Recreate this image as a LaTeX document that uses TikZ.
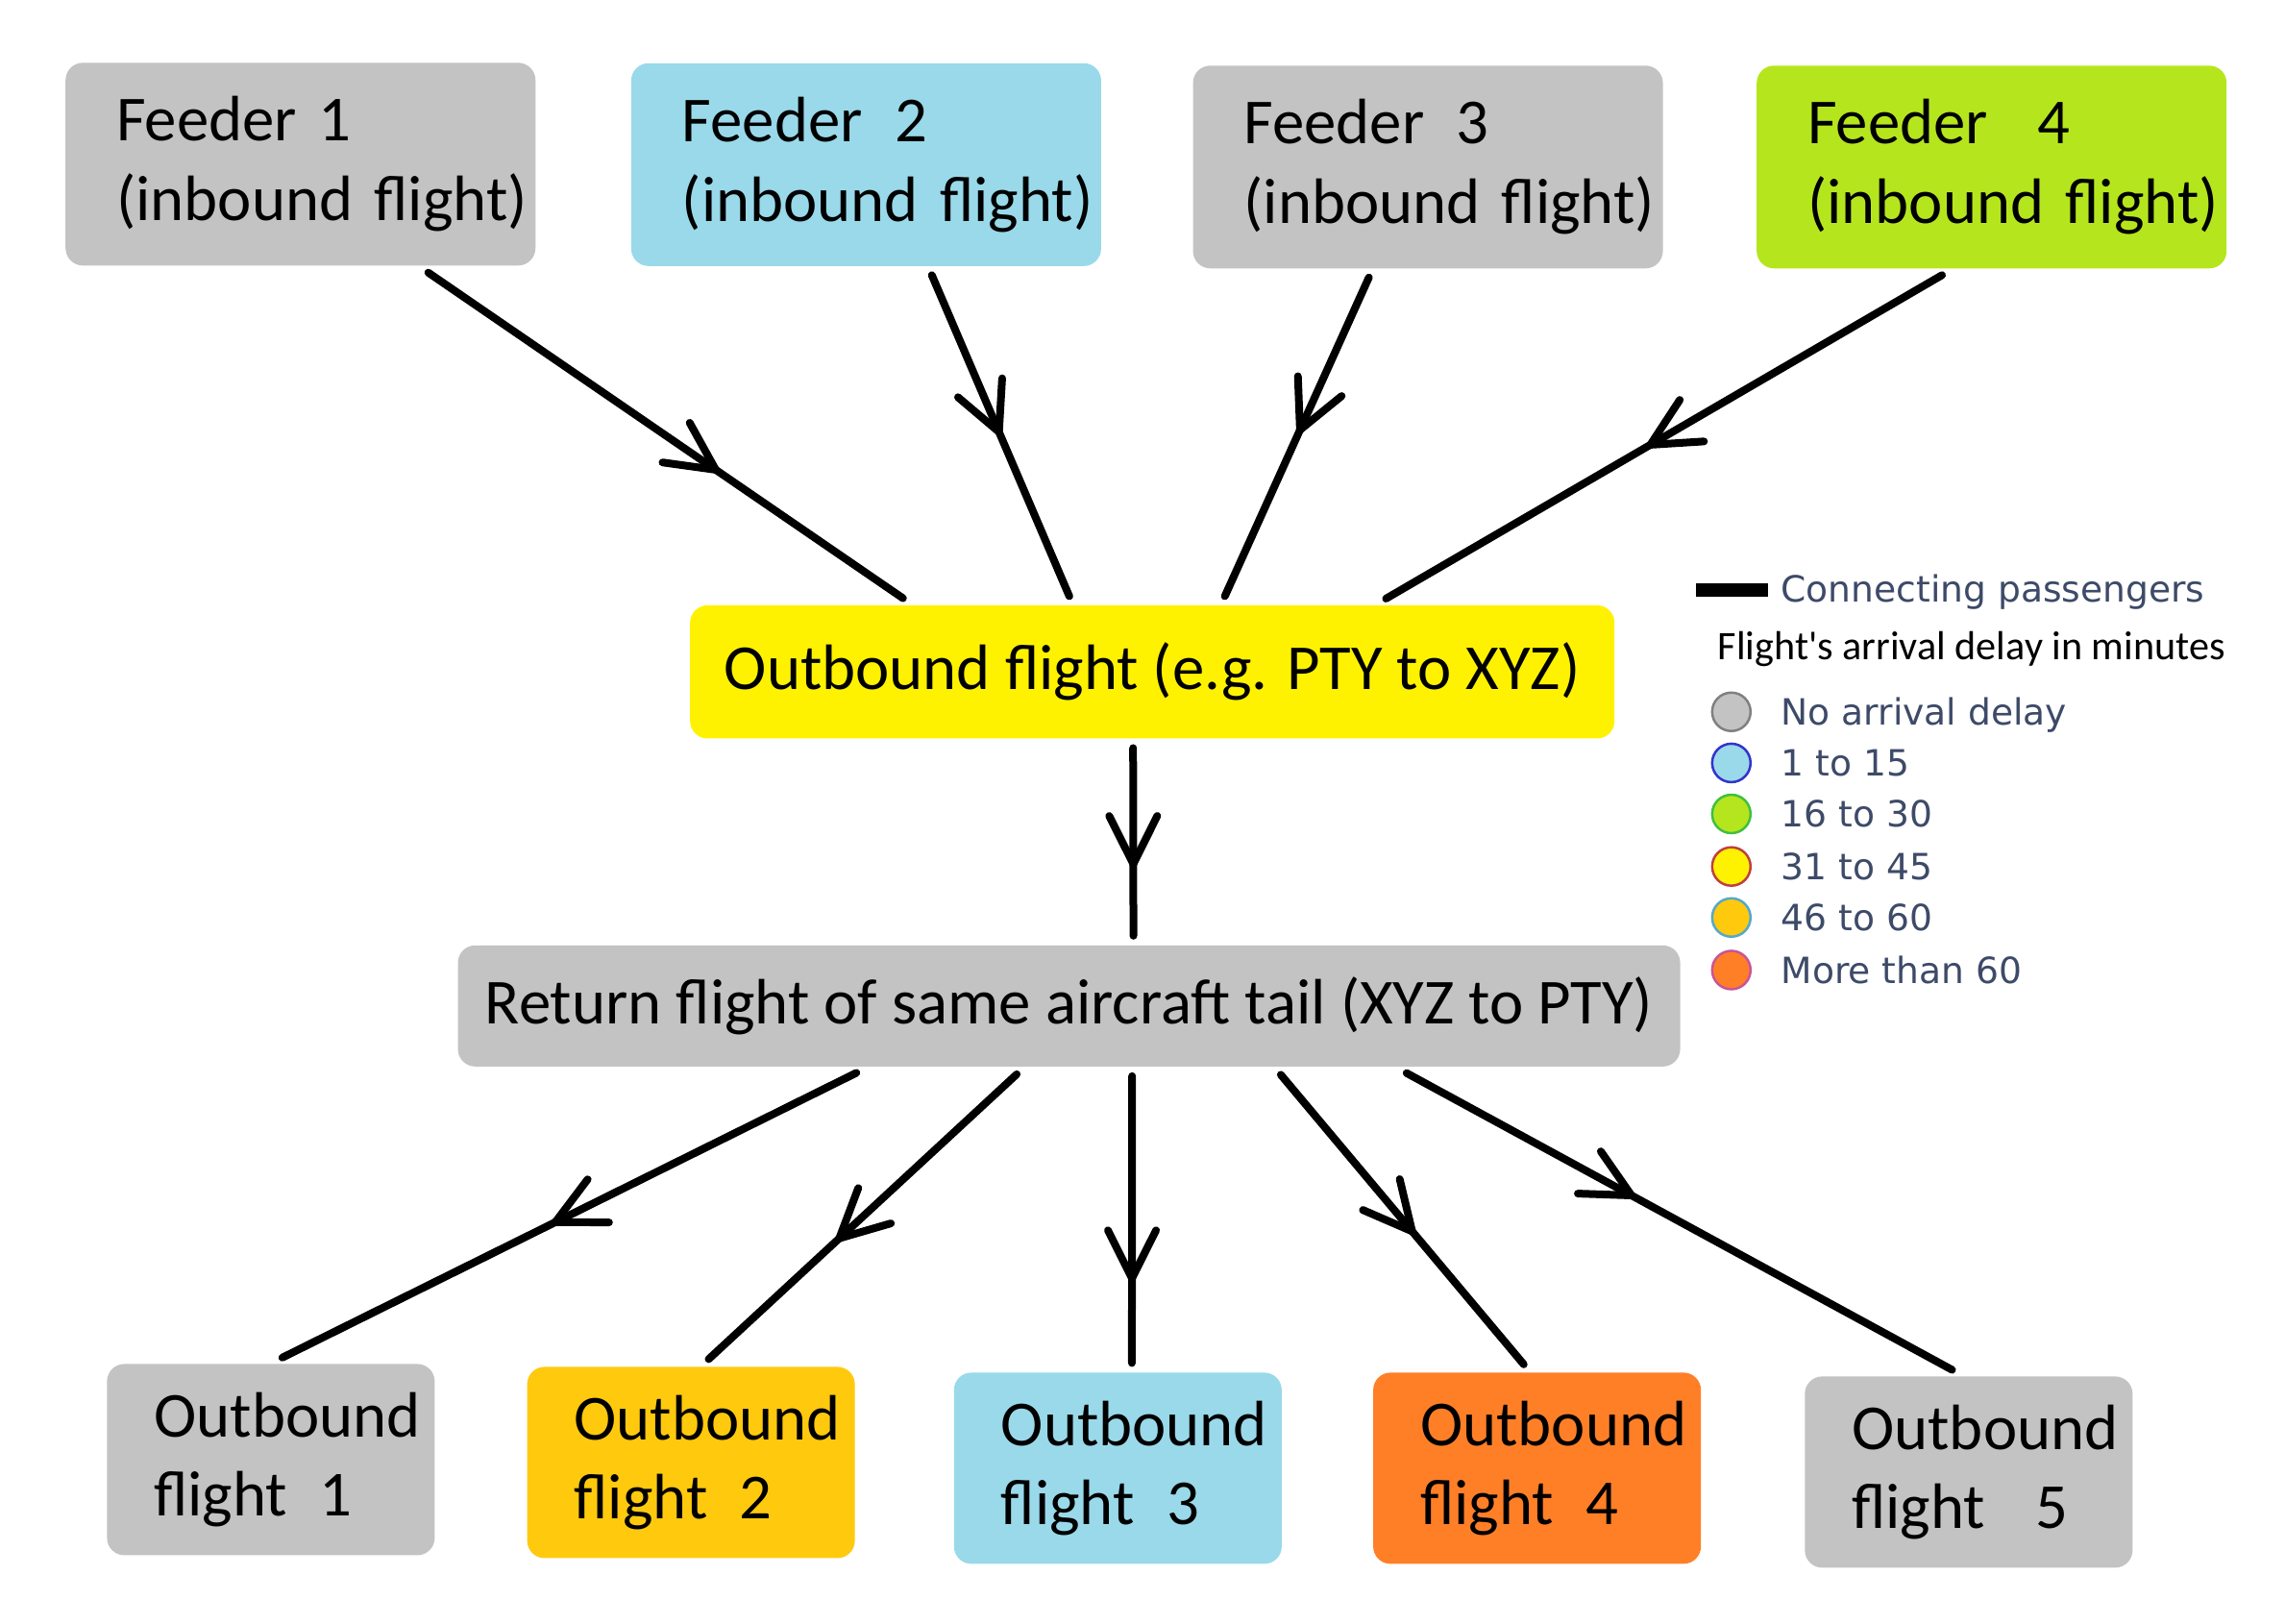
\documentclass[tikz,border=0pt]{standalone}
\usepackage{fontspec}
\setmainfont{Carlito}
\newfontfamily\legendfont{DejaVu Sans}
\usetikzlibrary{arrows.meta,decorations.markings}
\definecolor{nodelay}{HTML}{C3C3C3}
\definecolor{lowdelay}{HTML}{99D9EA}
\definecolor{middelay}{HTML}{B5E61D}
\definecolor{highdelay}{HTML}{FFF200}
\definecolor{higherdelay}{HTML}{FFC90E}
\definecolor{maxdelay}{HTML}{FF7F27}
\definecolor{legendtext}{HTML}{3D4A68}

\begin{document}
\begin{tikzpicture}[x=0.996cm, y=0.996cm, line width=0.08cm, line cap=round,
        box/.style = {rounded corners=0.18cm, inner sep=0pt, font=\fontsize{19}{23.5}\selectfont},
        feeder/.style = {box, align=left, text width=3.83cm, inner xsep=0.53cm, minimum height=2.11cm},
        outflight/.style = {box, align=left, text width=2.43cm, inner xsep=0.49cm, minimum height=1.99cm},
        flow/.style = {shorten <=0.06cm, shorten >=0.06cm, decoration={markings, mark=at position #1 with {\arrow{Straight Barb[length=5mm, width=5mm, round]}}}, postaction=decorate},
        flow/.default = 0.55,
        dot/.style = {circle, line width=0.025cm, minimum size=0.40cm, inner sep=0pt},
        legend/.style = {anchor=base west, inner sep=0pt, text=legendtext, font=\legendfont\fontsize{10.7}{13}\selectfont}]
        \useasboundingbox (0,0) rectangle (23.875,-16.967);
        \node[feeder, fill=nodelay] (f1) at (3.14,-1.715) {Feeder 1\\(inbound~flight)};
        \node[feeder, fill=lowdelay] (f2) at (9.05,-1.72) {Feeder\, 2\\(inbound~flight)};
        \node[feeder, fill=nodelay] (f3) at (14.92,-1.745) {Feeder\, 3\\(inbound~flight)};
        \node[feeder, fill=middelay] (f4) at (20.81,-1.745) {Feeder\;\, 4\\(inbound~flight)};
        \node[box, fill=highdelay, minimum width=9.62cm, minimum height=1.385cm] (out) at (12.04,-7.02) {Outbound flight (e.g. PTY to XYZ)};
        \node[box, fill=nodelay, minimum width=12.72cm, minimum height=1.26cm] (ret) at (11.17,-10.51) {Return flight of same aircraft tail (XYZ to PTY)};
        \node[outflight, fill=nodelay] (o1) at (2.83,-15.25) {Outbound\\flight\, 1};
        \node[outflight, fill=higherdelay] (o2) at (7.22,-15.28) {Outbound\\flight\, 2};
        \node[outflight, fill=lowdelay] (o3) at (11.68,-15.34) {Outbound\\flight\, 3};
        \node[outflight, fill=maxdelay] (o4) at (16.06,-15.34) {Outbound\\flight\, 4};
        \node[outflight, fill=nodelay] (o5) at (20.57,-15.38) {Outbound\\flight\;\, 5};
        \draw[flow=0.61] ([xshift=1.28cm]f1.south) -- ([xshift=-2.545cm]out.north);
        \draw[flow=0.5] ([xshift=0.66cm]f2.south) -- ([xshift=-0.84cm]out.north);
        \draw[flow=0.49] ([xshift=-0.59cm]f3.south) -- ([xshift=0.73cm]out.north);
        \draw[flow=0.53] ([xshift=-0.465cm]f4.south) -- ([xshift=2.38cm]out.north);
        \draw[flow=0.63] ([xshift=-0.2cm]out.south) -- ([xshift=0.67cm]ret.north);
        \draw[flow=0.53] ([xshift=-2.16cm]ret.south) -- ([xshift=0.066cm]o1.north);
        \draw[flow=0.585] ([xshift=-0.5cm]ret.south) -- ([xshift=0.14cm]o2.north);
        \draw[flow=0.71] ([xshift=0.656cm]ret.south) -- ([xshift=0.146cm]o3.north);
        \draw[flow=0.55] ([xshift=2.165cm]ret.south) -- ([xshift=-0.1cm]o4.north);
        \draw[flow=0.42] ([xshift=3.46cm]ret.south) -- ([xshift=-0.12cm]o5.north);
        % legend
        \coordinate (barL) at (17.72,-6.16);
        \coordinate (barR) at (18.47,-6.16);
        \draw[line width=0.14cm, line cap=butt] (barL) -- (barR);
        \node[legend] (conn) at (18.57,-6.29) {Connecting passengers};
        \node[anchor=base west, inner sep=0pt, font=\fontsize{12}{14}\selectfont] (title) at (17.91,-6.89) {Flight\textquotesingle s arrival delay in minutes};
        \node[dot, fill=nodelay, draw=gray] (d1) at (18.09,-7.437) {};
        \node[dot, fill=lowdelay, draw=blue!60!gray] (d2) at (18.09,-7.971) {};
        \node[dot, fill=middelay, draw=green!50!gray] (d3) at (18.09,-8.504) {};
        \node[dot, fill=highdelay, draw=red!50!gray] (d4) at (18.09,-9.053) {};
        \node[dot, fill=higherdelay, draw=cyan!60!gray] (d5) at (18.09,-9.586) {};
        \node[dot, fill=maxdelay, draw=magenta!60!gray] (d6) at (18.09,-10.135) {};
        \node[legend] (l1) at (18.57,-7.574) {No arrival delay};
        \node[legend] (l2) at (18.57,-8.108) {1 to 15};
        \node[legend] (l3) at (18.57,-8.641) {16 to 30};
        \node[legend] (l4) at (18.57,-9.190) {31 to 45};
        \node[legend] (l5) at (18.57,-9.723) {46 to 60};
        \node[legend] (l6) at (18.57,-10.272) {More than 60};
\end{tikzpicture}
\end{document}
